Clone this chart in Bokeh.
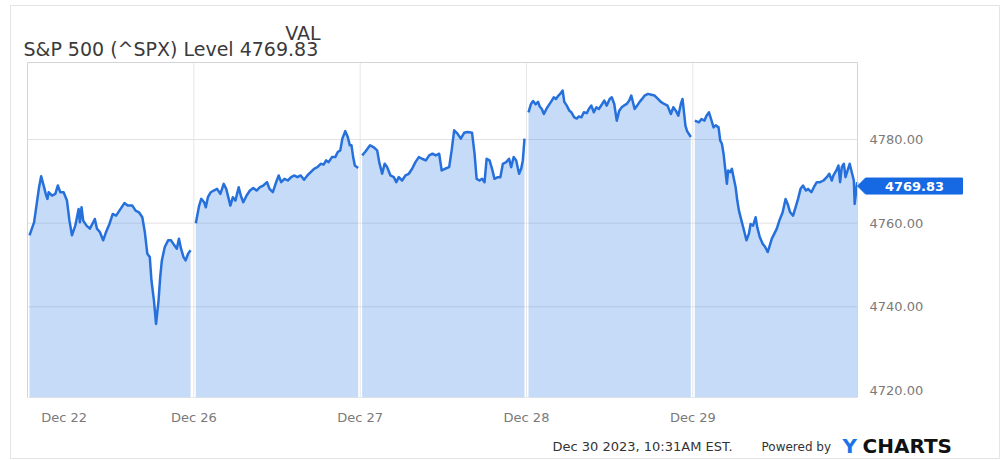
from bokeh.plotting import figure
from bokeh.layouts import column
from bokeh.models import Range1d, FixedTicker
from bokeh.core.properties import value
from bokeh.embed import file_html
from bokeh.resources import INLINE

# ---------------- data ----------------
day_labels = ["Dec 22", "Dec 26", "Dec 27", "Dec 28", "Dec 29"]

# minutes after the open (0..390) and index level
dec22_min = [0, 11, 15, 23, 28, 35, 39, 43, 46, 54, 62, 68, 74, 82, 90, 96, 102, 110, 118, 121,
             125, 129, 137, 145, 153, 157, 162, 169, 177, 184, 192, 200, 208, 216, 228, 236, 247,
             255, 263, 271, 277, 283, 289, 293, 299, 304, 310, 314, 318, 325, 333, 340, 348, 354,
             359, 364, 370, 375, 381, 387]
dec22_val = [4757.1, 4760.2, 4763.0, 4768.6, 4771.2, 4768.6, 4767.0, 4765.8, 4767.4, 4766.6,
             4767.0, 4769.0, 4767.4, 4767.4, 4765.4, 4760.6, 4757.1, 4759.4, 4763.4, 4760.2,
             4763.8, 4760.6, 4759.4, 4758.7, 4760.2, 4761.0, 4758.7, 4757.9, 4755.9, 4757.9,
             4759.8, 4762.2, 4761.8, 4763.0, 4764.8, 4764.2, 4764.2, 4763.0, 4762.6, 4761.4,
             4757.9, 4752.7, 4751.9, 4746.3, 4741.5, 4735.9, 4741.5, 4747.1, 4751.1, 4754.3,
             4755.9, 4755.9, 4754.7, 4753.9, 4756.3, 4753.9, 4751.9, 4751.1, 4752.7, 4753.5]

dec26_min = [0, 8, 13, 20, 24, 29, 36, 43, 51, 59, 67, 73, 79, 83, 89, 95, 103, 108, 114, 122,
             130, 138, 146, 154, 162, 171, 177, 185, 193, 199, 205, 213, 221, 229, 236, 244, 252,
             260, 268, 276, 284, 292, 300, 307, 313, 319, 327, 335, 341, 347, 352, 359, 365, 370,
             374, 378, 382, 390]
dec26_val = [4760.0, 4764.2, 4765.8, 4765.0, 4763.8, 4766.2, 4767.4, 4767.8, 4768.2, 4767.0,
             4769.4, 4768.2, 4765.8, 4764.2, 4766.2, 4765.4, 4768.6, 4766.6, 4765.0, 4766.6,
             4767.8, 4768.4, 4767.8, 4768.6, 4769.0, 4769.8, 4768.2, 4767.4, 4769.8, 4771.4,
             4769.8, 4770.6, 4770.2, 4771.0, 4771.4, 4771.0, 4771.4, 4770.4, 4771.4, 4772.2,
             4773.0, 4773.4, 4774.2, 4774.0, 4775.0, 4774.6, 4775.8, 4775.8, 4777.0, 4777.4,
             4780.2, 4782.0, 4780.6, 4778.6, 4778.6, 4775.8, 4773.8, 4773.2]

dec27_min = [0, 7, 19, 27, 36, 41, 48, 54, 60, 68, 76, 82, 88, 96, 104, 112, 120, 128, 136, 144,
             153, 161, 169, 177, 185, 191, 199, 209, 215, 221, 229, 237, 245, 253, 264, 270, 275,
             282, 288, 294, 299, 306, 312, 318, 326, 332, 338, 346, 353, 358, 364, 370, 377, 382,
             386, 390]
dec27_val = [4776.2, 4777.0, 4778.6, 4778.2, 4777.4, 4774.6, 4771.8, 4774.2, 4773.4, 4771.4,
             4771.0, 4769.8, 4771.0, 4770.2, 4771.4, 4771.8, 4773.0, 4774.6, 4775.8, 4775.4,
             4775.0, 4776.2, 4776.6, 4776.2, 4776.6, 4772.6, 4773.0, 4773.4, 4777.4, 4782.2,
             4781.4, 4780.2, 4781.6, 4781.8, 4781.6, 4776.6, 4770.6, 4770.2, 4770.6, 4769.8,
             4775.4, 4775.0, 4773.0, 4770.6, 4771.0, 4771.0, 4774.2, 4774.6, 4775.4, 4773.4,
             4775.8, 4775.0, 4771.8, 4773.0, 4775.0, 4780.2]

dec28_min = [0, 6, 11, 17, 23, 27, 32, 37, 43, 48, 54, 61, 66, 72, 76, 82, 86, 92, 98, 103,
             110, 116, 121, 127, 133, 140, 145, 151, 157, 163, 169, 177, 182, 188, 195, 200, 206,
             212, 218, 224, 229, 236, 242, 247, 255, 261, 267, 273, 279, 287, 295, 303, 311, 318,
             326, 334, 342, 348, 354, 360, 366, 370, 374, 377, 381, 390]
dec28_val = [4786.5, 4788.5, 4789.2, 4788.4, 4789.0, 4787.9, 4787.3, 4786.1, 4787.3, 4788.1,
             4789.0, 4790.1, 4789.7, 4790.5, 4790.9, 4791.7, 4789.0, 4788.1, 4786.9, 4786.5,
             4785.3, 4785.0, 4785.5, 4785.3, 4786.5, 4786.3, 4787.3, 4788.1, 4786.5, 4787.7,
             4787.3, 4788.5, 4789.3, 4788.1, 4789.7, 4790.1, 4788.5, 4784.5, 4786.9, 4787.7,
             4788.1, 4788.5, 4789.3, 4790.5, 4787.3, 4788.1, 4789.0, 4789.7, 4790.5, 4790.9,
             4790.7, 4790.5, 4789.7, 4789.0, 4788.5, 4788.1, 4786.1, 4787.7, 4786.9, 4785.7,
             4788.5, 4789.7, 4786.1, 4783.3, 4782.0, 4780.6]

dec29_min = [0, 10, 16, 23, 28, 34, 39, 45, 50, 57, 61, 65, 69, 73, 77, 80, 85, 89, 93, 98,
             102, 106, 112, 118, 124, 130, 134, 140, 146, 150, 156, 163, 169, 175, 179, 185, 191,
             197, 203, 211, 218, 223, 229, 236, 242, 248, 254, 260, 267, 272, 280, 286, 293, 301,
             309, 317, 323, 329, 333, 340, 345, 349, 353, 358, 362, 367, 372, 378, 382, 384, 390]
dec29_val = [4784.5, 4784.1, 4784.9, 4784.5, 4785.7, 4786.5, 4784.9, 4782.9, 4783.4, 4782.9,
             4779.8, 4779.0, 4776.6, 4773.0, 4769.4, 4772.6, 4772.2, 4773.0, 4771.0, 4768.6,
             4765.4, 4763.0, 4760.6, 4758.3, 4755.9, 4757.5, 4759.8, 4759.4, 4761.4, 4759.0,
             4756.7, 4755.1, 4754.3, 4753.1, 4754.3, 4756.3, 4757.5, 4758.7, 4760.6, 4762.6,
             4765.8, 4764.6, 4762.6, 4761.8, 4763.8, 4765.8, 4768.2, 4769.0, 4767.8, 4768.2,
             4767.4, 4768.6, 4769.8, 4769.8, 4770.2, 4771.0, 4771.8, 4770.2, 4771.4, 4772.6,
             4773.8, 4769.8, 4773.4, 4774.2, 4771.0, 4772.6, 4774.2, 4771.8, 4770.2, 4764.6,
             4769.83]

day_minutes = [dec22_min, dec26_min, dec27_min, dec28_min, dec29_min]
day_values = [dec22_val, dec26_val, dec27_val, dec28_val, dec29_val]

y_ticks = [4720, 4740, 4760, 4780]
last_value = 4769.83
series_name = "S&P 500 (^SPX) Level"
header_label = "VAL"
stamp_text = "Dec 30 2023, 10:31AM EST."
powered_text = "Powered by"
brand_mark = "Y"
brand_rest = "CHARTS"

# ---------------- layout / style ----------------
W = 988
H_MAIN, H_FOOT = 421, 31
CANVAS_X0, CANVAS_Y0 = 11, 6            # page position of canvas top-left
BOX_L, BOX_R, BOX_T, BOX_B = 27, 857, 62, 397   # plot box in page pixels
SESSION = 390.0
N_DAYS = len(day_labels)
X_SPAN = 4.99                            # data width of plot box
PXX = (BOX_R - BOX_L) / X_SPAN           # pixels per data-x unit
REF_V, REF_PY = 4720.0, 390.0            # 4720 drawn at page y=390
PXY = (390.0 - 139.0) / 60.0             # pixels per index point


def px2x(px):
    return (px - BOX_L) / PXX


def px2y(py):
    return REF_V + (REF_PY - py) / PXY


X_LEFT, X_RIGHT = px2x(CANVAS_X0), px2x(CANVAS_X0 + W)
Y_BOTTOM, Y_TOP = px2y(BOX_B), px2y(CANVAS_Y0)
Y_BOX_TOP = px2y(BOX_T)

LINE_COLOR = "#2670dc"
FILL_COLOR = "#4a90e8"
TEXT_DARK = "#3a3a3a"
TEXT_GRAY = "#7a7a7a"
FONT = value("DejaVu Sans")

p = figure(width=W, height=H_MAIN, output_backend="svg", toolbar_location=None,
           x_range=Range1d(X_LEFT, X_RIGHT), y_range=Range1d(Y_BOTTOM, Y_TOP),
           y_axis_location=None,
           min_border_left=0, min_border_right=0, min_border_top=0,
           min_border_bottom=H_MAIN - (BOX_B - CANVAS_Y0),
           background_fill_color="white", border_fill_color="white",
           outline_line_color=None)
p.grid.grid_line_color = None

# grid lines inside the plot box
grid_levels = y_ticks[1:]
p.segment(x0=[0] * len(grid_levels), x1=[X_SPAN] * len(grid_levels),
          y0=grid_levels, y1=grid_levels, line_color="#e2e2e2", line_width=1)
seps = list(range(1, N_DAYS))
p.segment(x0=seps, x1=seps, y0=[Y_BOTTOM] * len(seps), y1=[Y_BOX_TOP] * len(seps),
          line_color="#e6e6e6", line_width=1)

# one area + line per trading session
for d, (mins, vals) in enumerate(zip(day_minutes, day_values)):
    xs = [d + 0.012 + 0.976 * m / SESSION for m in mins]
    p.varea(x=xs, y1=[Y_BOTTOM - 5] * len(xs), y2=vals,
            fill_color=FILL_COLOR, fill_alpha=0.32)
    p.line(xs, vals, line_color=LINE_COLOR, line_width=2.5, line_join="round")

# plot box border
p.quad(left=[0], right=[X_SPAN], bottom=[Y_BOTTOM], top=[Y_BOX_TOP],
       fill_color=None, line_color="#d4d4d4", line_width=1)

# right-hand value labels
p.text(x=[px2x(BOX_R + 12)] * len(y_ticks), y=y_ticks,
       text=[f"{t:.2f}" for t in y_ticks],
       text_font=FONT, text_font_size="13px", text_color=TEXT_GRAY,
       text_align="left", text_baseline="middle")

# last-value tag
tag_y = last_value - 4 / PXY
hx, hy = 1 / PXX, 1 / PXY
p.patch(x=[X_SPAN, X_SPAN + 8 * hx, X_SPAN + 105 * hx, X_SPAN + 105 * hx, X_SPAN + 8 * hx],
        y=[tag_y, tag_y + 8 * hy, tag_y + 8 * hy, tag_y - 8 * hy, tag_y - 8 * hy],
        fill_color="#1668e3", line_color="#1668e3", line_width=1)
p.text(x=[X_SPAN + 57 * hx], y=[tag_y], text=[f"{last_value:.2f}"],
       text_font=FONT, text_font_style="bold", text_font_size="13px",
       text_color="white", text_align="center", text_baseline="middle")

# header
p.text(x=[px2x(320)], y=[px2y(32)], text=[header_label],
       text_font=FONT, text_font_size="19px", text_color=TEXT_DARK,
       text_align="right", text_baseline="middle")
p.text(x=[px2x(23)], y=[px2y(48)], text=[f"{series_name} {last_value:.2f}"],
       text_font=FONT, text_font_size="19px", text_color=TEXT_DARK,
       text_align="left", text_baseline="middle")

# x axis (day labels)
tick_pos = [0.22] + seps
xa = p.xaxis[0]
xa.ticker = FixedTicker(ticks=tick_pos)
xa.major_label_overrides = {pos: lab for pos, lab in zip(tick_pos, day_labels)}
xa.axis_line_color = None
xa.major_tick_line_color = None
xa.minor_tick_line_color = None
xa.major_label_standoff = 6
xa.major_label_text_color = TEXT_GRAY
xa.major_label_text_font = "DejaVu Sans"
xa.major_label_text_font_size = "13px"

# footer strip
foot = figure(width=W, height=H_FOOT, output_backend="svg", toolbar_location=None,
              x_range=Range1d(0, W), y_range=Range1d(0, H_FOOT),
              x_axis_location=None, y_axis_location=None,
              min_border=0, outline_line_color=None,
              background_fill_color="white", border_fill_color="white")
foot.grid.grid_line_color = None
foot_top = CANVAS_Y0 + H_MAIN
fy = H_FOOT - (446 - foot_top)
foot.text(x=[552 - CANVAS_X0], y=[fy], text=[stamp_text], text_font=FONT,
          text_font_size="13px", text_color="#333333", text_align="left", text_baseline="middle")
foot.text(x=[761 - CANVAS_X0], y=[fy], text=[powered_text], text_font=FONT,
          text_font_size="12px", text_color="#333333", text_align="left", text_baseline="middle")
foot.text(x=[842 - CANVAS_X0], y=[fy + 1], text=[brand_mark], text_font=FONT,
          text_font_style="bold", text_font_size="20px", text_color="#1a73e8",
          text_align="left", text_baseline="middle")
foot.text(x=[862 - CANVAS_X0], y=[fy + 1], text=[brand_rest], text_font=FONT,
          text_font_style="bold", text_font_size="20px", text_color="#111111",
          text_align="left", text_baseline="middle")

layout = column(p, foot, spacing=0,
                styles={"border": "1px solid #e4e4e4", "margin-left": "10px", "margin-top": "5px"})

open("out.html", "w").write(file_html(layout, INLINE))
